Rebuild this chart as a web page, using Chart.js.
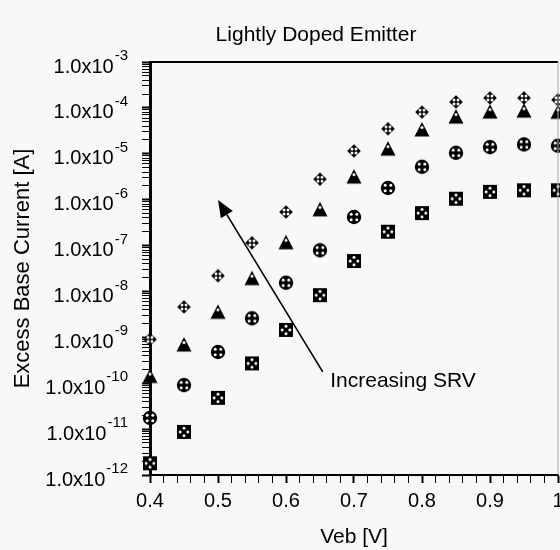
<!DOCTYPE html>
<html>
<head>
<meta charset="utf-8">
<script src="https://cdn.jsdelivr.net/npm/chart.js@4/dist/chart.umd.min.js"></script>
<style>
  html, body { margin: 0; padding: 0; background: #f8f8f8; overflow: hidden; }
  #wrap { width: 600px; height: 550px; }
</style>
</head>
<body>
<div id="wrap"><canvas id="excessChart" width="600" height="550"></canvas></div>
<script>
// Veb [V] sweep
const veb = [0.40, 0.45, 0.50, 0.55, 0.60, 0.65, 0.70, 0.75, 0.80, 0.85, 0.90, 0.95, 1.00];

// excess base current [A], lowest SRV -> highest SRV
const currentSrv1 = [1.8e-12, 8.7e-12, 4.8e-11, 2.7e-10, 1.45e-9, 8.3e-9, 4.6e-8, 2.0e-7, 5.1e-7, 1.05e-6, 1.48e-6, 1.6e-6, 1.6e-6];
const currentSrv2 = [1.75e-11, 9.1e-11, 4.8e-10, 2.6e-9, 1.55e-8, 7.9e-8, 4.2e-7, 1.8e-6, 5.2e-6, 1.05e-5, 1.4e-5, 1.6e-5, 1.5e-5];
const currentSrv3 = [1.4e-10, 6.8e-10, 3.5e-9, 1.9e-8, 1.15e-7, 6.0e-7, 3.1e-6, 1.26e-5, 3.3e-5, 6.3e-5, 8.1e-5, 8.5e-5, 8.0e-5];
const currentSrv4 = [9.0e-10, 4.6e-9, 2.2e-8, 1.15e-7, 5.4e-7, 2.8e-6, 1.15e-5, 3.5e-5, 8.1e-5, 1.35e-4, 1.65e-4, 1.65e-4, 1.5e-4];

// axes
const xMajorTicks = [0.4, 0.5, 0.6, 0.7, 0.8, 0.9, 1.0];
const xTickLabels = ["0.4", "0.5", "0.6", "0.7", "0.8", "0.9", "1"];
const yExponents = [-3, -4, -5, -6, -7, -8, -9, -10, -11, -12];

// annotation
const arrowFrom = [0.654, 1.76e-10];
const arrowTip = [0.5, 9.8e-7];
const noteAt = [0.665, 1.12e-10];
const noteText = "Increasing SRV";
const titleText = "Lightly Doped Emitter";

const BG = "#f8f8f8";
const FONT = '"Liberation Sans", Arial, sans-serif';

function makeMarker(shape) {
    const c = document.createElement("canvas");
    c.width = 18; c.height = 18;
    const g = c.getContext("2d");
    g.translate(9, 9);
    g.fillStyle = "#000";
    let holes = [];
    if (shape === "square") {
        g.fillRect(-7, -7, 14, 14);
        holes = [[0, -3.8], [3.8, 0], [0, 3.8], [-3.8, 0]];
    } else if (shape === "circle") {
        g.beginPath(); g.arc(0, 0, 7.2, 0, Math.PI * 2); g.fill();
        holes = [[-2.8, -2.8], [2.8, -2.8], [2.8, 2.8], [-2.8, 2.8]];
    } else if (shape === "triangle") {
        g.beginPath(); g.moveTo(0, -8); g.lineTo(7.5, 6.5); g.lineTo(-7.5, 6.5); g.closePath(); g.fill();
        holes = [[0, -2.5]];
    } else {
        g.beginPath(); g.moveTo(0, -6.8); g.lineTo(6.8, 0); g.lineTo(0, 6.8); g.lineTo(-6.8, 0); g.closePath(); g.fill();
        holes = [[-2, -2], [2, -2], [2, 2], [-2, 2]];
    }
    g.fillStyle = BG;
    holes.forEach(([hx, hy]) => {
        g.beginPath(); g.arc(hx, hy, 1.5, 0, Math.PI * 2); g.fill();
    });
    return c;
}

function series(values, shape) {
    return {
        data: veb.map((v, i) => ({ x: v, y: values[i] })),
        pointStyle: makeMarker(shape),
        showLine: false,
        clip: false
    };
}

// frame, superscript tick labels, title, arrow and note
const decorations = {
    id: "decorations",
    afterDraw(chart) {
        const { ctx, chartArea: a, scales: { x, y } } = chart;
        ctx.save();
        ctx.strokeStyle = "#000";
        ctx.lineWidth = 2;
        ctx.beginPath();
        ctx.moveTo(a.left, a.top); ctx.lineTo(a.right, a.top);
        ctx.stroke();
        ctx.strokeStyle = "#aaa";
        ctx.lineWidth = 1;
        ctx.beginPath();
        ctx.moveTo(a.right, a.top); ctx.lineTo(a.right, a.bottom);
        ctx.stroke();

        ctx.fillStyle = "#000";
        ctx.textBaseline = "middle";
        ctx.textAlign = "left";
        yExponents.forEach(e => {
            const py = y.getPixelForValue(Math.pow(10, e));
            const base = "1.0x10";
            const sup = String(e);
            ctx.font = "20px " + FONT;
            const wb = ctx.measureText(base).width;
            ctx.font = "15px " + FONT;
            const ws = ctx.measureText(sup).width;
            const x0 = 127 - wb - ws;
            ctx.font = "20px " + FONT;
            ctx.fillText(base, x0, py + 5);
            ctx.font = "15px " + FONT;
            ctx.fillText(sup, x0 + wb + 1, py - 6);
        });

        ctx.font = "21px " + FONT;
        ctx.textAlign = "center";
        ctx.fillText(titleText, 316, 35);

        const x1 = x.getPixelForValue(arrowFrom[0]), y1 = y.getPixelForValue(arrowFrom[1]);
        const x2 = x.getPixelForValue(arrowTip[0]), y2 = y.getPixelForValue(arrowTip[1]);
        const ang = Math.atan2(y2 - y1, x2 - x1);
        const head = 17, half = 7;
        const bx = x2 - head * Math.cos(ang), by = y2 - head * Math.sin(ang);
        ctx.lineWidth = 1.6;
        ctx.strokeStyle = "#000";
        ctx.beginPath();
        ctx.moveTo(x1, y1); ctx.lineTo(bx, by);
        ctx.stroke();
        ctx.beginPath();
        ctx.moveTo(x2, y2);
        ctx.lineTo(bx + half * Math.sin(ang), by - half * Math.cos(ang));
        ctx.lineTo(bx - half * Math.sin(ang), by + half * Math.cos(ang));
        ctx.closePath();
        ctx.fill();

        ctx.font = "21px " + FONT;
        ctx.textAlign = "left";
        ctx.fillText(noteText, x.getPixelForValue(noteAt[0]), y.getPixelForValue(noteAt[1]));
        ctx.restore();
    }
};

const ctx = document.getElementById("excessChart").getContext("2d");
const excessChart = new Chart(ctx, {
    type: "scatter",
    data: {
        datasets: [
            series(currentSrv1, "square"),
            series(currentSrv2, "circle"),
            series(currentSrv3, "triangle"),
            series(currentSrv4, "diamond")
        ]
    },
    options: {
        responsive: false,
        animation: false,
        devicePixelRatio: 1,
        layout: { padding: { top: 62, right: 42, bottom: 0, left: 0 } },
        plugins: {
            legend: { display: false },
            title: { display: false },
            tooltip: { enabled: false }
        },
        scales: {
            x: {
                type: "linear",
                min: 0.4,
                max: 1.0,
                afterBuildTicks(axis) {
                    const ticks = [];
                    xMajorTicks.forEach((v, i) => {
                        ticks.push({ value: v, major: true });
                        if (i < xMajorTicks.length - 1) {
                            const step = (xMajorTicks[i + 1] - v) / 5;
                            for (let k = 1; k < 5; k++) ticks.push({ value: v + k * step, major: false });
                        }
                    });
                    axis.ticks = ticks;
                },
                afterFit(axis) { axis.height = 75; },
                ticks: {
                    autoSkip: false,
                    maxRotation: 0,
                    padding: 6,
                    color: "#000",
                    font: { family: FONT, size: 20 },
                    callback(value, index, ticks) {
                        const i = xMajorTicks.findIndex(m => Math.abs(m - value) < 1e-6);
                        return i >= 0 ? xTickLabels[i] : "";
                    }
                },
                grid: {
                    drawOnChartArea: false,
                    tickLength: 8,
                    tickColor: "#000",
                    tickWidth: c => (c.tick && c.tick.major ? 2 : 1)
                },
                border: { color: "#000", width: 2 },
                title: {
                    display: true,
                    text: "Veb [V]",
                    color: "#000",
                    font: { family: FONT, size: 21 },
                    padding: { top: 0, bottom: 0 }
                }
            },
            y: {
                type: "logarithmic",
                min: 1e-12,
                max: 1e-3,
                afterBuildTicks(axis) {
                    const ticks = [];
                    for (let e = -12; e <= -3; e++) {
                        const top = e === -3 ? 1 : 9;
                        for (let m = 1; m <= top; m++) {
                            ticks.push({ value: m * Math.pow(10, e), major: m === 1 });
                        }
                    }
                    axis.ticks = ticks;
                },
                afterFit(axis) { axis.width = 150; },
                ticks: {
                    autoSkip: false,
                    callback: () => ""
                },
                grid: {
                    drawOnChartArea: false,
                    tickLength: 8,
                    tickColor: "#000",
                    tickWidth: c => (c.tick && c.tick.major ? 2 : 1)
                },
                border: { color: "#000", width: 3 },
                title: {
                    display: true,
                    text: "Excess Base Current [A]",
                    color: "#000",
                    font: { family: FONT, size: 22 },
                    padding: { top: 10, bottom: 0 }
                }
            }
        }
    },
    plugins: [decorations]
});
</script>
</body>
</html>
